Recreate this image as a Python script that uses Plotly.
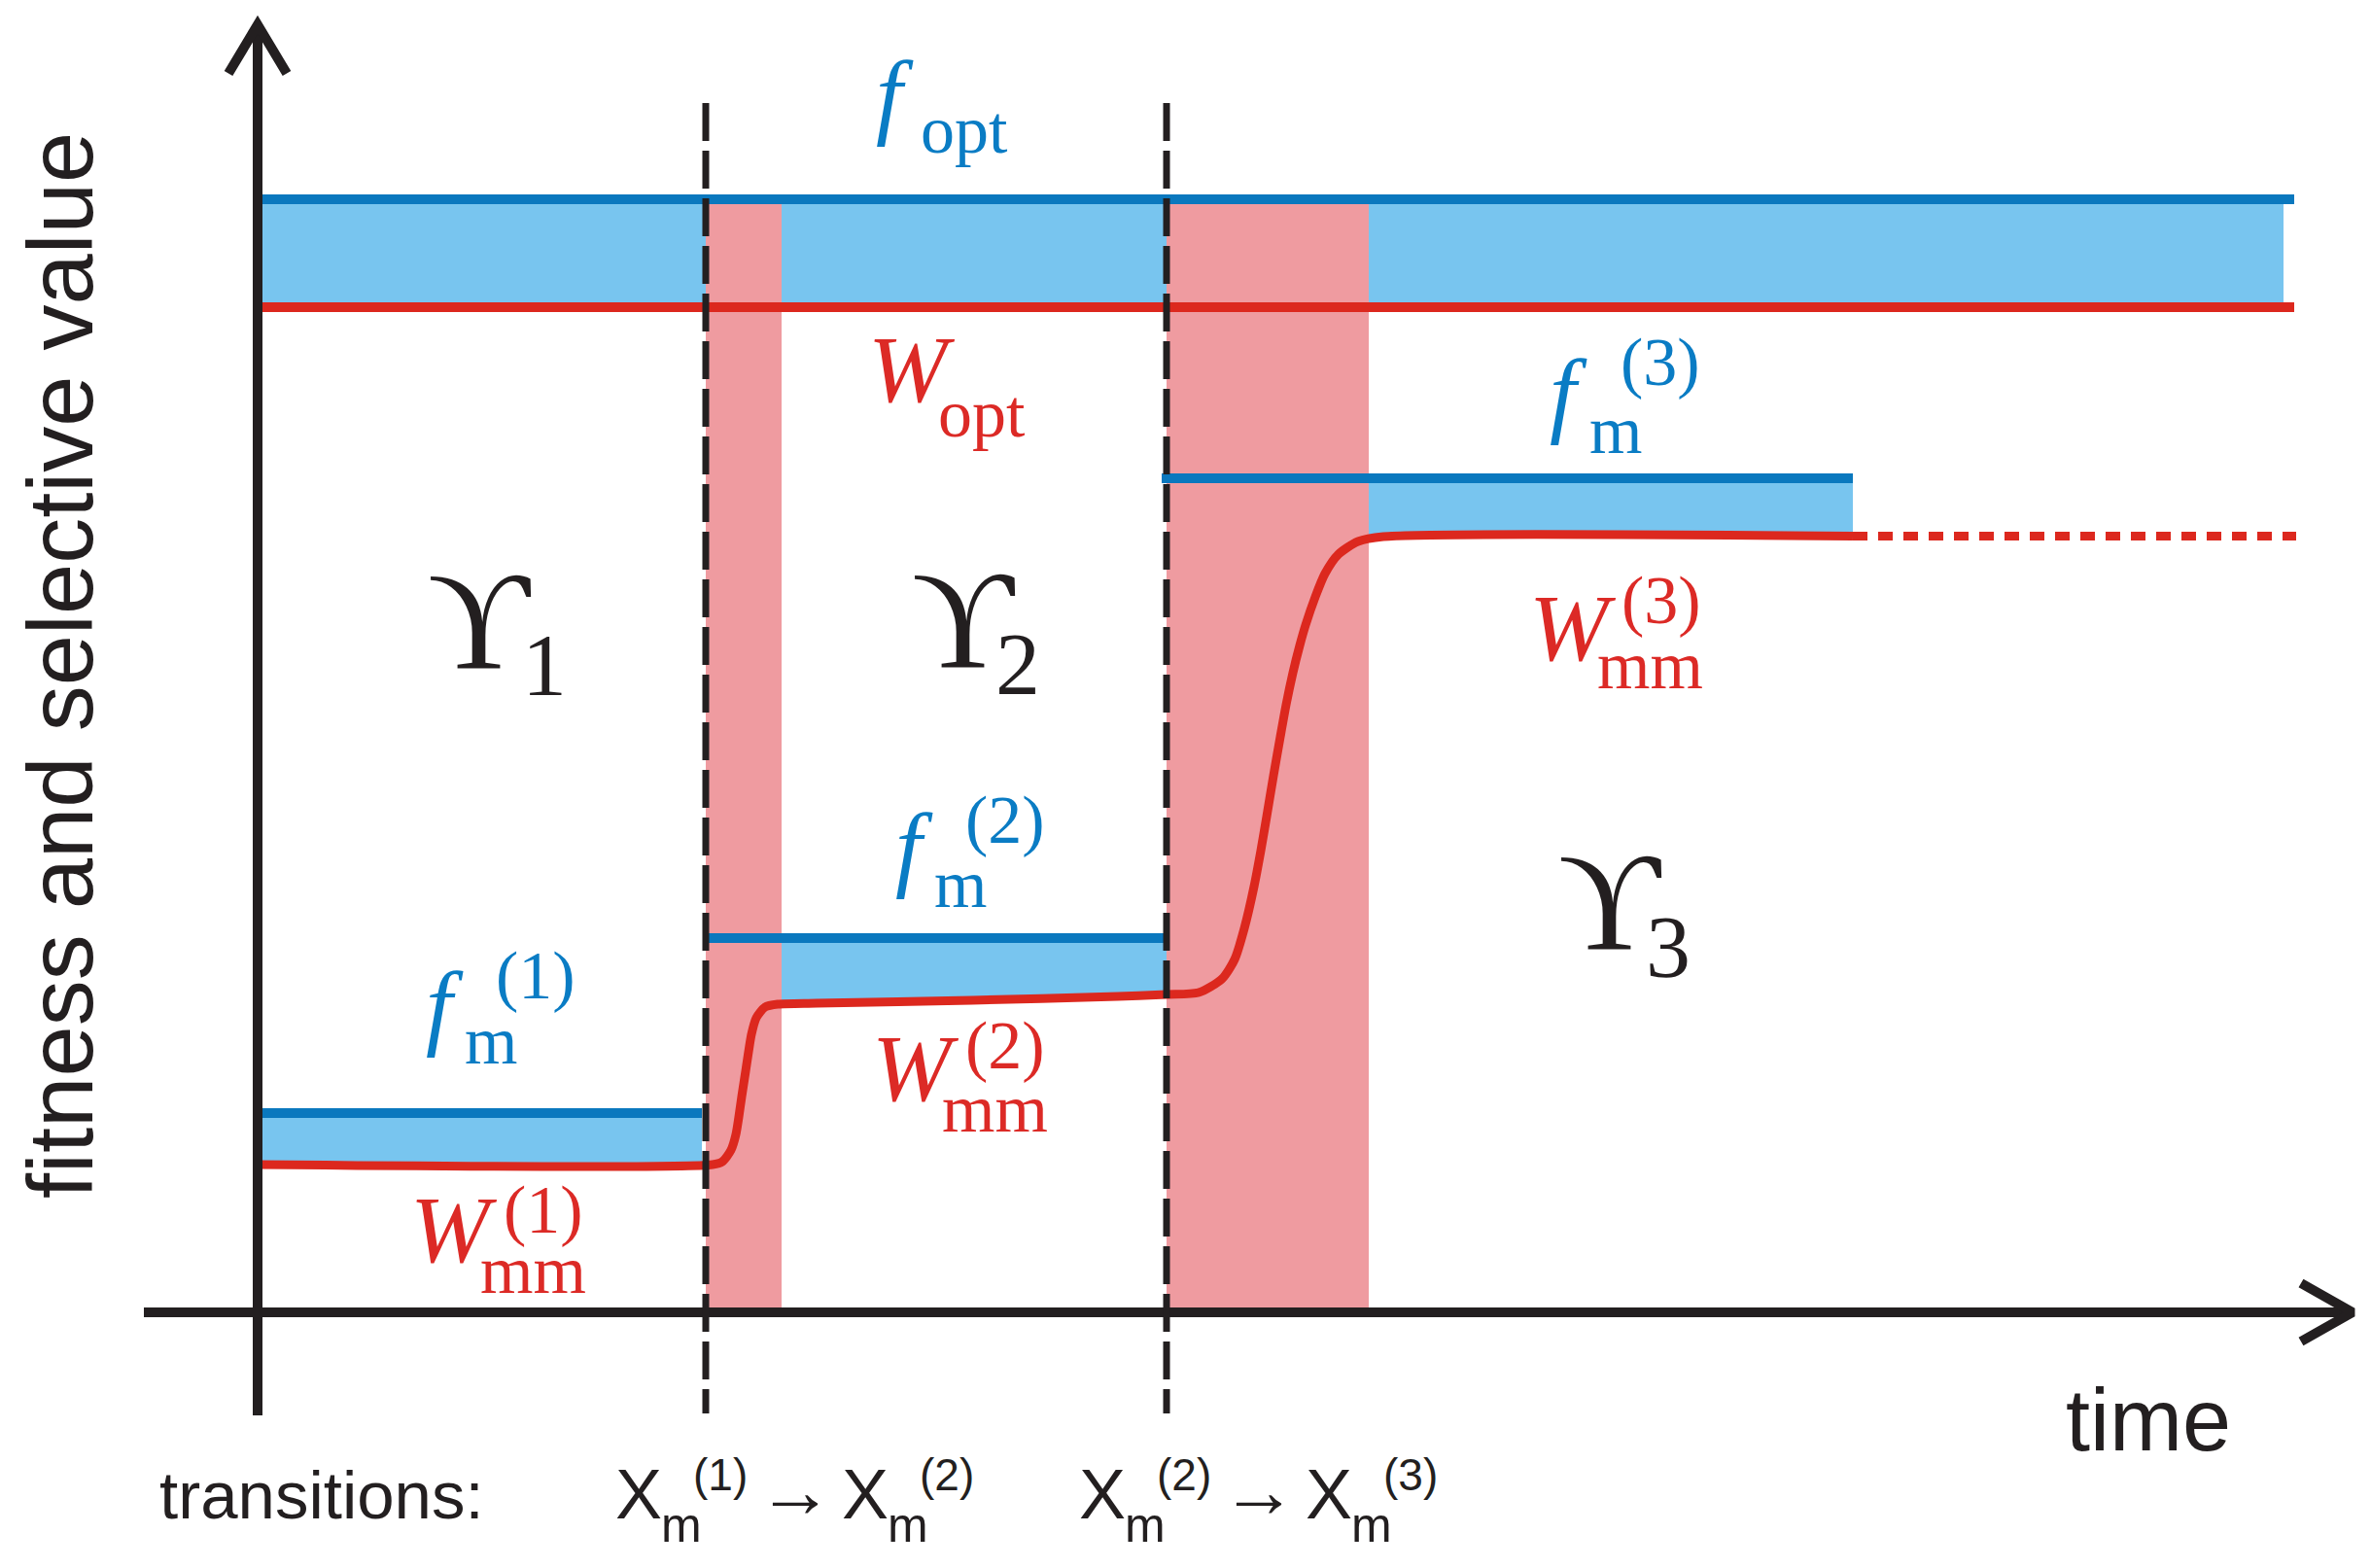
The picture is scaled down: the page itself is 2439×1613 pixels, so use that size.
import numpy as np
import plotly.graph_objects as go

# ---------------- data (time units / fitness units) ----------------
transition_t = [4.61, 9.35]          # dashed transition lines
adapt_end_t = [5.39, 11.43]          # end of pink adaptation bands
band_top_v = 11.40                   # pink band top

f_opt_level = 11.45
W_opt_level = 10.34
opt_line_end_t = 20.95
opt_fill_end_t = 20.84

fm_levels = [2.05, 3.85, 8.58]
fm_line_start = [0.0, 4.61, 9.30]
fm_line_end = [4.57, 9.35, 16.41]
fm_fill_start = [0.0, 5.39, 11.43]
fm_fill_end = [4.57, 9.35, 16.41]

# selective value W_mm(t)
W_t = [0.00, 4.68, 4.78, 4.87, 4.92, 4.95, 4.98, 5.02, 5.05, 5.08, 5.13, 5.22, 5.35, 5.75,
       7.35, 8.85, 9.35, 9.68, 9.92, 10.05, 10.15, 10.25, 10.32, 10.38, 10.45, 10.52, 10.58,
       10.65, 10.72, 10.78, 10.88, 10.98, 11.12, 11.32, 11.58, 16.41]
W_v = [1.52, 1.52, 1.55, 1.67, 1.83, 2.01, 2.22, 2.48, 2.68, 2.86, 3.03, 3.14, 3.17, 3.18,
       3.21, 3.25, 3.27, 3.29, 3.43, 3.63, 3.95, 4.38, 4.75, 5.10, 5.52, 5.92, 6.25,
       6.58, 6.86, 7.07, 7.36, 7.60, 7.80, 7.93, 7.98, 7.985]
W_dotted_t = [16.41, 20.97]
W_dotted_v = [7.985, 7.985]

time_axis = [-1.17, 21.55]
value_axis = [-1.06, 13.245]
dashed_span = [-1.04, 12.44]

# ---------------- styling ----------------
BLUE_LINE = "#0a78be"
BLUE_FILL = "#78c5ef"
RED_LINE = "#dc281e"
PINK = "#ef9ba0"
BLACK = "#231f20"
BLUE_TXT = "#0a7cc4"
RED_TXT = "#dc2a26"

W_PX, H_PX = 2439, 1613
X0_PX, Y0_PX, PPU = 265.0, 1350.0, 100.0


def tx(px):
    return (px - X0_PX) / PPU


def vy(py):
    return (Y0_PX - py) / PPU


fig = go.Figure()


def line(x, y, color, width, dash=None, shape="linear"):
    fig.add_trace(go.Scatter(x=x, y=y, mode="lines",
                             line=dict(color=color, width=width, dash=dash, shape=shape, smoothing=0.7),
                             hoverinfo="skip", showlegend=False))


def poly(x, y, color):
    fig.add_trace(go.Scatter(x=x, y=y, mode="lines", fill="toself", fillcolor=color,
                             line=dict(width=0, color=color), hoverinfo="skip", showlegend=False))


Wt = np.array(W_t)
Wv = np.array(W_v)

# blue fills
poly([0, opt_fill_end_t, opt_fill_end_t, 0], [W_opt_level, W_opt_level, f_opt_level, f_opt_level], BLUE_FILL)
for a, b, top in zip(fm_fill_start, fm_fill_end, fm_levels):
    m = (Wt > a) & (Wt < b)
    bt = [a] + list(Wt[m]) + [b]
    bv = [float(np.interp(a, Wt, Wv))] + list(Wv[m]) + [float(np.interp(b, Wt, Wv))]
    poly(bt + [b, a], bv + [top, top], BLUE_FILL)

# pink adaptation bands
for a, b in zip(transition_t, adapt_end_t):
    poly([a, b, b, a], [0, 0, band_top_v, band_top_v], PINK)

# optimum lines
line([0, opt_line_end_t], [f_opt_level, f_opt_level], BLUE_LINE, 10)
line([0, opt_line_end_t], [W_opt_level, W_opt_level], RED_LINE, 10)

# f_m lines
for a, b, lv in zip(fm_line_start, fm_line_end, fm_levels):
    line([a, b], [lv, lv], BLUE_LINE, 10)

# W_mm curve
line(W_t, W_v, RED_LINE, 9, shape="spline")
line(W_dotted_t, W_dotted_v, RED_LINE, 9, dash="15px,11px")

# axes with open arrow heads
line(time_axis, [0, 0], BLACK, 10)
line([0, 0], value_axis, BLACK, 10)
line([time_axis[1] - 0.53, time_axis[1], time_axis[1] - 0.53], [0.30, 0, -0.30], BLACK, 10)
line([-0.30, 0, 0.30], [value_axis[1] - 0.50, value_axis[1], value_axis[1] - 0.50], BLACK, 10)

# dashed transition lines
for t in transition_t:
    line([t, t], [dashed_span[1], dashed_span[0]], BLACK, 7, dash="39px,10px")

# ---------------- text ----------------
SERIF = "Liberation Serif"
SANS = "Liberation Sans"
DESC = {SERIF: 0.216, SANS: 0.212}


def label(text, x_left, baseline, size, color, family=SERIF):
    fig.add_annotation(x=tx(x_left), y=vy(baseline + DESC[family] * size), xref="x", yref="y",
                       text=text, showarrow=False, xanchor="left", yanchor="bottom",
                       borderpad=0, borderwidth=0,
                       font=dict(family=family, size=size, color=color))


def tensor(main, sub, sup, x_main, b_main, x_sub, b_sub, x_sup, b_sup, color, s_main=98, s_small=70):
    label("<i>%s</i>" % main, x_main, b_main, s_main, color)
    if sub:
        label(sub, x_sub, b_sub, s_small, color)
    if sup:
        label(sup, x_sup, b_sup, s_small, color)


tensor("f", "opt", None, 901, 130, 947, 157, 0, 0, BLUE_TXT)
tensor("W", "opt", None, 893, 413, 965, 449, 0, 0, RED_TXT)
tensor("f", "m", "(1)", 438, 1067, 478, 1094, 510, 1027, BLUE_TXT)
tensor("W", "mm", "(1)", 422, 1298, 494, 1330, 518, 1268, RED_TXT)
tensor("f", "m", "(2)", 921, 904, 961, 933, 993, 867, BLUE_TXT)
tensor("W", "mm", "(2)", 897, 1132, 969, 1164, 993, 1099, RED_TXT)
tensor("f", "m", "(3)", 1594, 437, 1635, 466, 1667, 396, BLUE_TXT)
tensor("W", "mm", "(3)", 1573, 679, 1643, 708, 1668, 641, RED_TXT)

# regimes
for sym, xs, bs, xi, bi in [("1", 440, 687, 537, 715), ("2", 938, 686, 1024, 714), ("3", 1603, 976, 1693, 1005)]:
    label("\u03d2", xs, bs, 145, BLACK)
    label(sym, xi, bi, 92, BLACK)

# axis titles
fig.add_annotation(x=tx(62), y=vy(685), xref="x", yref="y", text="fitness and selective value",
                   textangle=-90, showarrow=False, xanchor="center", yanchor="middle",
                   borderpad=0, borderwidth=0, font=dict(family=SANS, size=94, color=BLACK))
label("time", 2125, 1492, 90, BLACK, SANS)
label("transitions:", 164, 1562, 69, BLACK, SANS)


def xlabel(x_left, a, b):
    label("X", x_left, 1562, 72, BLACK, SANS)
    label("m", x_left + 47, 1586, 50, BLACK, SANS)
    label("(%s)" % a, x_left + 80, 1533, 46, BLACK, SANS)
    label("\u2192", x_left + 146, 1560, 78, BLACK, SANS)
    label("X", x_left + 233, 1562, 72, BLACK, SANS)
    label("m", x_left + 280, 1586, 50, BLACK, SANS)
    label("(%s)" % b, x_left + 313, 1533, 46, BLACK, SANS)


xlabel(633, "1", "2")
xlabel(1110, "2", "3")

fig.update_layout(
    width=W_PX, height=H_PX, autosize=False,
    margin=dict(l=0, r=0, t=0, b=0, pad=0),
    paper_bgcolor="white", plot_bgcolor="white", showlegend=False,
    xaxis=dict(range=[tx(0), tx(W_PX)], visible=False, fixedrange=True),
    yaxis=dict(range=[vy(H_PX), vy(0)], visible=False, fixedrange=True),
)

fig.write_html("out.html", config={"displayModeBar": False},
               post_script="document.body.style.margin='0px';document.body.style.overflow='hidden';")
